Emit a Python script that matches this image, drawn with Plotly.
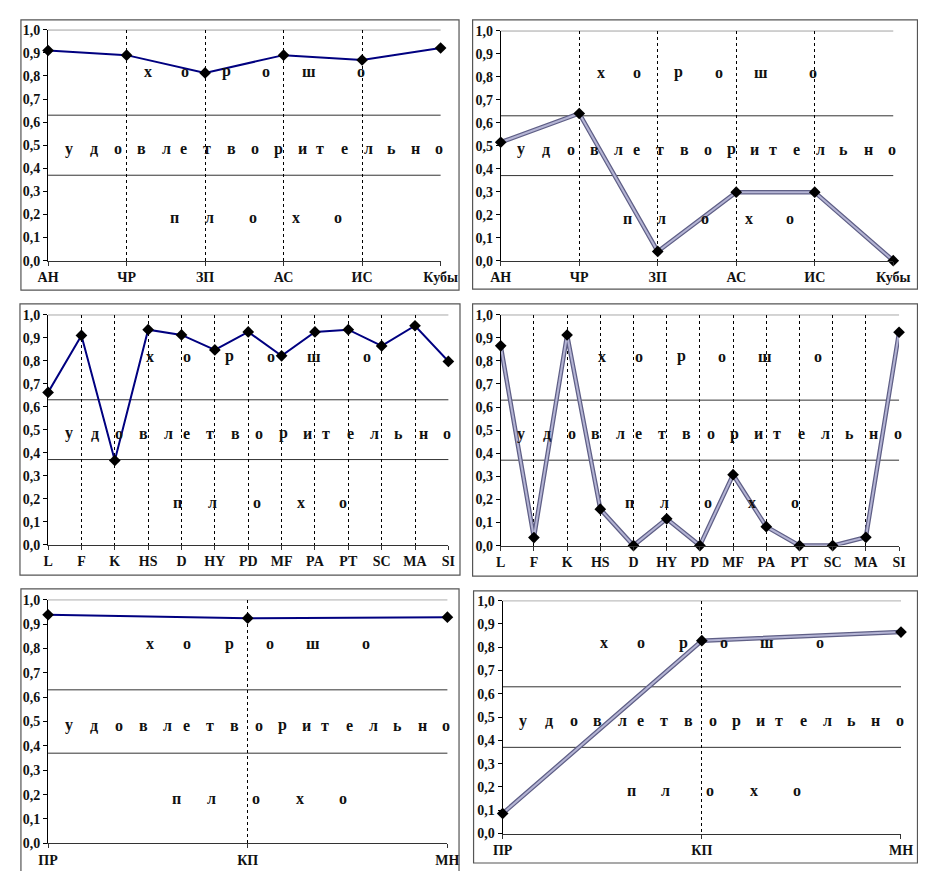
import plotly.graph_objects as go

# page body keeps its default 8px margin, so the figure is sized to fit inside it
OFF = 8
W, H = 926 - 2 * OFF, 879 - 2 * OFF

# ---- data ----
cats_a = ["АН", "ЧР", "ЗП", "АС", "ИС", "Кубы"]
vals_1 = [0.91, 0.89, 0.813, 0.89, 0.869, 0.921]
vals_2 = [0.515, 0.64, 0.04, 0.298, 0.298, 0.0]

cats_b = ["L", "F", "K", "HS", "D", "HY", "PD", "MF", "PA", "PT", "SC", "MA", "SI"]
vals_3 = [0.662, 0.91, 0.366, 0.935, 0.912, 0.847, 0.925, 0.821, 0.925, 0.935, 0.864, 0.952, 0.797]
vals_4 = [0.865, 0.035, 0.912, 0.158, 0.0, 0.116, 0.0, 0.307, 0.082, 0.0, 0.0, 0.036, 0.924]

cats_c = ["ПР", "КП", "МН"]
vals_5 = [0.938, 0.924, 0.928]
vals_6 = [0.086, 0.828, 0.865]

thresholds = [0.63, 0.37]

word_good = list("хорошо")
word_good_x = [0.24, 0.333, 0.454, 0.556, 0.664, 0.812]
word_mid = list("удовлетворительно")
word_mid_x = [0.037, 0.101, 0.163, 0.222, 0.284, 0.346, 0.405, 0.467, 0.528,
              0.588, 0.647, 0.709, 0.768, 0.832, 0.891, 0.953, 1.012]
word_bad = list("плохо")
word_bad_x = [0.306, 0.41, 0.521, 0.632, 0.753]
word_y = [0.82, 0.485, 0.185]

# ---- layout geometry (window pixels) ----
panels = [
    dict(cats=cats_a, vals=vals_1, style="solid", plot=(38, 443, 23, 258), border=(10, 13, 462, 288)),
    dict(cats=cats_a, vals=vals_2, style="tex", plot=(505, 910, 24, 258), border=(476, 13, 935, 287)),
    dict(cats=cats_b, vals=vals_3, style="solid", plot=(38, 451, 313, 547), border=(9, 302, 463, 578)),
    dict(cats=cats_b, vals=vals_4, style="tex", plot=(505, 916, 313, 548), border=(476, 302, 935, 579)),
    dict(cats=cats_c, vals=vals_5, style="solid", plot=(38, 450, 603, 851), border=(10, 592, 462, 895)),
    dict(cats=cats_c, vals=vals_6, style="tex", plot=(507, 918, 604, 841), border=(477, 594, 935, 871)),
]

def px(x):
    return (x - OFF) / W

def py(y):
    return 1 - (y - OFF) / H

FONT = "Liberation Serif, Times New Roman, DejaVu Serif, serif"
fig = go.Figure()
shapes = []
annotations = []
layout = {}

for i, p in enumerate(panels, start=1):
    xa = "x" if i == 1 else f"x{i}"
    ya = "y" if i == 1 else f"y{i}"
    x0, x1, y0, y1 = p["plot"]
    n = len(p["cats"])
    layout[f"xaxis{'' if i == 1 else i}"] = dict(
        domain=[px(x0), min(px(x1), 1.0)], anchor=ya, type="category",
        categoryorder="array", categoryarray=p["cats"],
        range=[0, n - 1], showgrid=True, gridcolor="#000000", gridwidth=1,
        griddash="3px,3px", showline=True, linecolor="#333333", linewidth=1,
        ticks="outside", ticklen=4, tickcolor="#333333",
        tickfont=dict(family=FONT, size=14, color="#111111", weight="bold"),
        zeroline=False, fixedrange=True,
    )
    layout[f"yaxis{'' if i == 1 else i}"] = dict(
        domain=[py(y1), py(y0)], anchor=xa, range=[0, 1],
        tickvals=[k / 10 for k in range(11)], tickformat=".1f",
        showgrid=False, showline=True, linecolor="#000000", linewidth=1,
        ticks="outside", ticklen=4, tickcolor="#000000",
        tickfont=dict(family=FONT, size=14, color="#111111", weight="bold"),
        zeroline=False, fixedrange=True,
    )
    for yv, col in [(1.0, "#222222")] + [(t, "#333333") for t in thresholds]:
        shapes.append(dict(type="line", xref=f"{xa} domain", yref=ya, x0=0, x1=1,
                           y0=yv, y1=yv, line=dict(color=col, width=1), layer="below"))
    bx0, by0, bx1, by1 = p["border"]
    shapes.append(dict(type="rect", xref="paper", yref="paper", x0=px(bx0), x1=px(bx1),
                       y0=py(by1), y1=py(by0), line=dict(color="#555555", width=1.2)))
    for word, xs, yv in [(word_good, word_good_x, word_y[0]),
                         (word_mid, word_mid_x, word_y[1]),
                         (word_bad, word_bad_x, word_y[2])]:
        for ch, xf in zip(word, xs):
            annotations.append(dict(text=f"<b>{ch}</b>", xref=f"{xa} domain", yref=ya,
                                    x=xf, y=yv, showarrow=False,
                                    font=dict(family=FONT, size=16, color="#111111")))
    if p["style"] == "solid":
        fig.add_trace(go.Scatter(x=p["cats"], y=p["vals"], xaxis=xa, yaxis=ya,
                                 mode="lines+markers", cliponaxis=False,
                                 line=dict(color="#000080", width=2),
                                 marker=dict(symbol="diamond", size=9, color="#000000")))
    else:
        fig.add_trace(go.Scatter(x=p["cats"], y=p["vals"], xaxis=xa, yaxis=ya,
                                 mode="lines", cliponaxis=False,
                                 line=dict(color="#5f5f86", width=4.5)))
        fig.add_trace(go.Scatter(x=p["cats"], y=p["vals"], xaxis=xa, yaxis=ya,
                                 mode="lines+markers", cliponaxis=False,
                                 line=dict(color="#b4b4d4", width=2),
                                 marker=dict(symbol="diamond", size=9, color="#000000")))

fig.update_layout(
    width=W, height=H, margin=dict(l=0, r=0, t=0, b=0),
    paper_bgcolor="white", plot_bgcolor="white", showlegend=False,
    separators=",.", shapes=shapes, annotations=annotations,
    font=dict(family=FONT), **layout,
)

fig.write_html("out.html", config={"displayModeBar": False, "staticPlot": True})
